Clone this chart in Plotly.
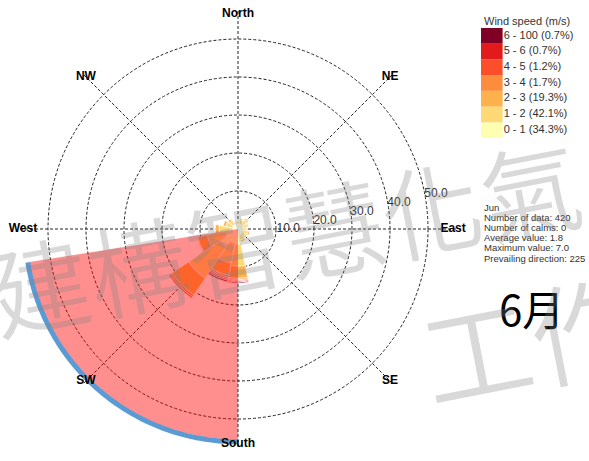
import numpy as np
import plotly.graph_objects as go

# ---------------- data ----------------
directions = [0, 22.5, 45, 67.5, 90, 112.5, 135, 157.5,
              180, 202.5, 225, 247.5, 270, 292.5, 315, 337.5]
speed_labels = ["0 - 1 (34.3%)", "1 - 2 (42.1%)", "2 - 3 (19.3%)", "3 - 4 (1.7%)",
                "4 - 5 (1.2%)", "5 - 6 (0.7%)", "6 - 100 (0.7%)"]
speed_colors = ["#FFFFB2", "#FED976", "#FEB24C", "#FD8D3C",
                "#FC4E2A", "#E31A1C", "#800026"]
#            N    NNE  NE   ENE  E    ESE  SE   SSE  S    SSW  SW    WSW  W    WNW  NW   NNW
spd_0_1 = [1.2, 1.4, 1.5, 1.4, 1.3, 1.5, 1.4, 1.6, 4.0, 3.8, 5.5, 3.4, 2.1, 1.5, 1.5, 1.2]
spd_1_2 = [0.8, 1.1, 1.4, 1.1, 0.9, 1.3, 1.1, 1.4, 5.8, 5.4, 10.1, 4.9, 2.9, 1.8, 1.3, 0.8]
spd_2_3 = [0.2, 0.3, 0.4, 0.3, 0.3, 0.4, 0.3, 0.5, 3.2, 3.3, 5.3, 2.5, 1.0, 0.7, 0.4, 0.2]
spd_3_4 = [0, 0, 0, 0, 0, 0, 0, 0, 0.4, 0.5, 0.6, 0.2, 0, 0, 0, 0]
spd_4_5 = [0, 0, 0, 0, 0, 0, 0, 0, 0.3, 0.4, 0.4, 0.1, 0, 0, 0, 0]
spd_5_6 = [0, 0, 0, 0, 0, 0, 0, 0, 0.3, 0.4, 0, 0, 0, 0, 0, 0]
spd_6_100 = [0, 0, 0, 0, 0, 0, 0, 0, 0.3, 0.4, 0, 0, 0, 0, 0, 0]
speed_series = [spd_0_1, spd_1_2, spd_2_3, spd_3_4, spd_4_5, spd_5_6, spd_6_100]

# highlighted prevailing sector
sector_from = 180
sector_to = 261
sector_r = 55.5

compass_theta = [0, 45, 90, 135, 180, 225, 270, 315]
compass_names = ["North", "NE", "East", "SE", "South", "SW", "West", "NW"]
radial_ticks = [10, 20, 30, 40, 50]

info_lines = ["Jun", "Number of data: 420", "Number of calms: 0",
              "Average value: 1.8", "Maximum value: 7.0", "Prevailing direction: 225"]
month_label = "6月"
watermark_1 = "建構智慧化氣"
watermark_2 = "工作"

FONT = "Liberation Sans, Arial, sans-serif"
W, H = 589, 461
RMAX = 57.5

fig = go.Figure()

# stacked wind rose bars
for lab, col, vals in zip(speed_labels, speed_colors, speed_series):
    fig.add_trace(go.Barpolar(
        r=vals, theta=directions, width=[22.5] * len(directions),
        marker=dict(color=col, line=dict(color="white", width=0.7)),
        name=lab, showlegend=False, hoverinfo="skip"))

# prevailing sector overlay
fig.add_trace(go.Barpolar(
    r=[sector_r], theta=[(sector_from + sector_to) / 2], width=[sector_to - sector_from],
    base=0,
    marker=dict(color="rgba(255,0,0,0.44)", line=dict(width=0)),
    showlegend=False, hoverinfo="skip"))

arc_theta = np.linspace(sector_from, sector_to, 80)
fig.add_trace(go.Scatterpolar(
    r=[sector_r + 0.5] * len(arc_theta), theta=arc_theta, mode="lines",
    line=dict(color="#5B9BD5", width=5), cliponaxis=False,
    showlegend=False, hoverinfo="skip"))

# compass labels
fig.add_trace(go.Scatterpolar(
    r=[56.6] * len(compass_theta), theta=compass_theta, mode="text",
    text=compass_names, textposition="middle center",
    textfont=dict(family=FONT, size=12, color="black", weight="bold"),
    cliponaxis=False, showlegend=False, hoverinfo="skip"))

# ---- legend drawn as a small bar chart ----
idx = list(range(len(speed_labels)))
fig.add_trace(go.Bar(
    x=[1] * len(idx), y=idx, orientation="h", width=1,
    marker=dict(color=speed_colors, line=dict(width=0)),
    xaxis="x", yaxis="y", showlegend=False, hoverinfo="skip"))
fig.add_trace(go.Scatter(
    x=[1.05] * len(idx), y=idx, mode="text", text=speed_labels,
    textposition="middle right", textfont=dict(family=FONT, size=11, color="#333"),
    cliponaxis=False, xaxis="x", yaxis="y", showlegend=False, hoverinfo="skip"))

cx, cy = 238, 229
R = RMAX * 3.8
fig.update_layout(
    width=W, height=H, margin=dict(l=0, r=0, t=0, b=0, autoexpand=False),
    paper_bgcolor="white", plot_bgcolor="rgba(0,0,0,0)",
    showlegend=False,
    polar=dict(
        domain=dict(x=[(cx - R) / W, (cx + R) / W],
                    y=[(H - cy - R) / H, (H - cy + R) / H]),
        bgcolor="rgba(0,0,0,0)",
        barmode="stack",
        radialaxis=dict(range=[0, RMAX], tickvals=radial_ticks, tickformat=".1f",
                        showline=False, ticks="", angle=13.5, side="clockwise",
                        tickangle=13.5,
                        tickfont=dict(family=FONT, size=12, color="#333"),
                        gridcolor="#222", griddash="3px,2px", gridwidth=0.8),
        angularaxis=dict(rotation=90, direction="clockwise",
                         tickvals=compass_theta, showticklabels=False, ticks="",
                         showline=False, gridcolor="#222", griddash="3px,2px",
                         gridwidth=0.8),
    ),
    xaxis=dict(domain=[481 / W, 1.0], range=[0, 5], visible=False, fixedrange=True),
    yaxis=dict(domain=[(H - 138) / H, (H - 28) / H], range=[-0.5, 6.5],
               visible=False, fixedrange=True),
)

ann = []
ann.append(dict(text="Wind speed (m/s)", x=482 / W, y=(H - 21) / H, xref="paper", yref="paper",
                xanchor="left", yanchor="middle", showarrow=False,
                font=dict(family=FONT, size=11, color="#333")))
for i, line in enumerate(info_lines):
    ann.append(dict(text=line, x=482 / W, y=(H - (207 + 10.2 * i)) / H, xref="paper", yref="paper",
                    xanchor="left", yanchor="middle", showarrow=False,
                    font=dict(family=FONT, size=9.5, color="#333")))
ann.append(dict(text=month_label, x=531 / W, y=(H - 307) / H, xref="paper", yref="paper",
                xanchor="center", yanchor="middle", showarrow=False,
                font=dict(family="Noto Sans CJK TC", size=42, color="black")))
ann.append(dict(text=watermark_1, x=284 / W, y=(H - 234) / H, xref="paper", yref="paper",
                xanchor="center", yanchor="middle", showarrow=False, textangle=-11,
                font=dict(family="Noto Sans CJK TC", size=100, weight=350,
                          color="rgba(130,130,130,0.3)")))
ann.append(dict(text=watermark_2, x=530 / W, y=(H - 336) / H, xref="paper", yref="paper",
                xanchor="center", yanchor="middle", showarrow=False, textangle=-11,
                font=dict(family="Noto Sans CJK TC", size=110, weight=350,
                          color="rgba(130,130,130,0.3)")))
fig.update_layout(annotations=ann)

fig.write_html("out.html", config={"displayModeBar": False},
               post_script="document.body.style.margin='0';document.body.style.overflow='hidden';")
